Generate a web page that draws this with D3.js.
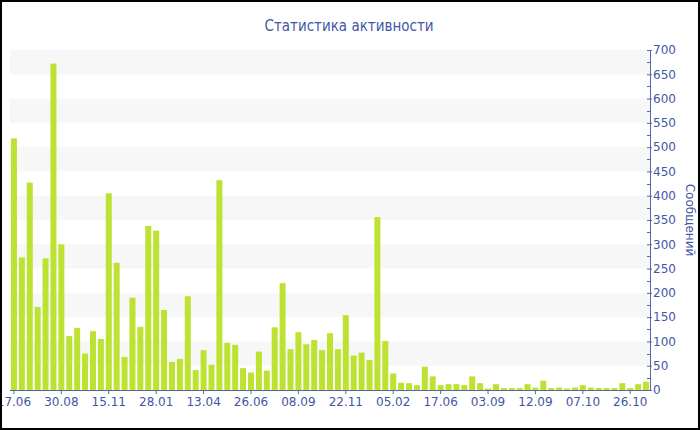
<!DOCTYPE html>
<html>
<head>
<meta charset="utf-8">
<script src="https://cdn.jsdelivr.net/npm/d3@7"></script>
<style>
  html, body { margin: 0; padding: 0; background: #fff; }
  svg { display: block; }
  text { font-family: "DejaVu Sans", Verdana, sans-serif; }
</style>
</head>
<body>
<svg id="chart" width="700" height="430"></svg>
<script>
const title = "Статистика активности";
const yTitle = "Сообщений";
const values = [
  518, 273, 427, 171, 271, 672, 300, 111, 128, 75,
  121, 105, 405, 262, 68, 190, 130, 338, 328, 165,
  58, 64, 193, 41, 82, 52, 432, 97, 93, 45,
  36, 79, 40, 129, 220, 84, 119, 94, 103, 82,
  117, 84, 154, 71, 77, 62, 356, 101, 34, 15,
  14, 10, 48, 28, 10, 12, 12, 10, 28, 14,
  3, 12, 4, 4, 4, 12, 5, 19, 4, 5,
  3, 5, 10, 5, 4, 4, 4, 14, 4, 12, 17
];
const categories = values.map((v, i) => i);
const tickLabels = ["17.06", "30.08", "15.11", "28.01", "13.04", "26.06", "08.09",
  "22.11", "05.02", "17.06", "03.09", "12.09", "07.10", "26.10"];
const tickEvery = 6;
const yTicks = d3.range(0, 701, 50);
const yMinorTicks = d3.range(25, 700, 50);

(function () {
const W = 700, H = 430;
const mLeft = 10, mRight = 650, mTop = 50, mBottom = 390;
const textColor = "#4356a6";
const axisColor = "#5566aa";
const barColor = "#bde232";

const svg = d3.select("#chart");

const x = d3.scaleBand().domain(categories).range([mLeft, mRight]).paddingInner(0.24).paddingOuter(0.12);
const y = d3.scaleLinear().domain([0, 700]).range([mBottom, mTop]);

// alternating bands
const bands = d3.range(50, 700, 100);
svg.append("g").selectAll("rect").data(bands).join("rect")
  .attr("x", mLeft).attr("width", mRight - mLeft)
  .attr("y", d => y(d + 50)).attr("height", d => y(d) - y(d + 50))
  .attr("fill", "#f7f7f7");

// bars
svg.append("g").selectAll("rect").data(values).join("rect")
  .attr("x", (d, i) => x(categories[i]))
  .attr("width", x.bandwidth())
  .attr("y", d => y(d))
  .attr("height", d => y(0) - y(d))
  .attr("fill", barColor);

// x axis
const xTickVals = categories.filter((c, i) => i % tickEvery === 0);
const xAxis = d3.axisBottom(x)
  .tickValues(xTickVals)
  .tickFormat((d) => tickLabels[d / tickEvery])
  .tickSizeInner(4).tickSizeOuter(0).tickPadding(3);
const gx = svg.append("g").attr("transform", `translate(0,${mBottom})`).call(xAxis);
gx.select(".domain").attr("stroke", axisColor).attr("d", `M${mLeft},0.5H${mRight}`);
gx.selectAll(".tick line").attr("stroke", axisColor);
gx.selectAll(".tick text").attr("fill", textColor).style("font-size", "12px");

// y axis (right)
const yAxis = d3.axisRight(y).tickValues(yTicks).tickSizeInner(0).tickSizeOuter(0).tickPadding(3);
const gy = svg.append("g").attr("transform", `translate(${mRight},0)`).call(yAxis);
gy.select(".domain").attr("stroke", axisColor);
gy.selectAll(".tick text").attr("fill", textColor).style("font-size", "12px");
gy.selectAll(".tick").append("line").attr("x1", -3).attr("x2", 2).attr("stroke", axisColor);
svg.append("g").selectAll("line").data(yMinorTicks).join("line")
  .attr("x1", mRight - 3).attr("x2", mRight)
  .attr("y1", d => Math.round(y(d)) + 0.5).attr("y2", d => Math.round(y(d)) + 0.5)
  .attr("stroke", axisColor);

// titles
svg.append("text").attr("x", 349).attr("y", 31).attr("text-anchor", "middle")
  .attr("fill", textColor)
  .style("font-family", "'DejaVu Sans Condensed', 'DejaVu Sans', sans-serif")
  .style("font-size", "15px").text(title);
svg.append("text").attr("transform", `translate(686,${(mTop + mBottom) / 2}) rotate(90)`)
  .attr("text-anchor", "middle").attr("fill", textColor).style("font-size", "12px").text(yTitle);

// border
svg.append("rect").attr("x", 1).attr("y", 1).attr("width", W - 2).attr("height", H - 2)
  .attr("fill", "none").attr("stroke", "#000").attr("stroke-width", 2);
})();
</script>
</body>
</html>
